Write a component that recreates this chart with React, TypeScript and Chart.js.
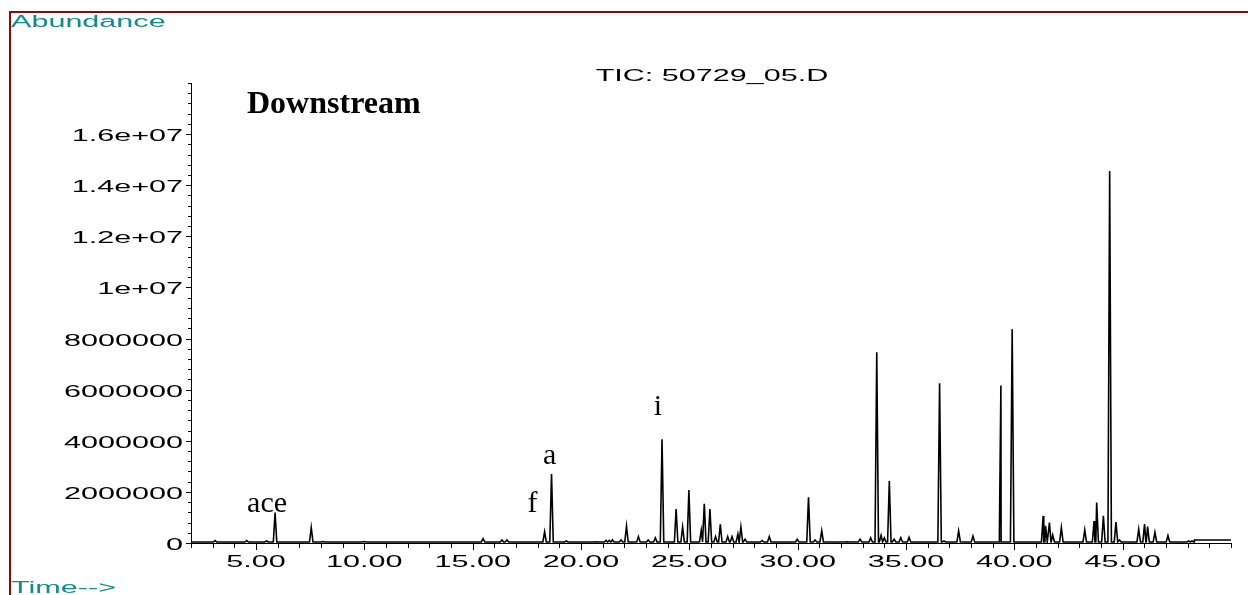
import { useEffect, useRef } from 'react';
import { Chart, registerables } from 'chart.js';

Chart.register(...registerables);

// Retention time (min) of each resolved peak in the total ion chromatogram
const peakTimes = [
  2.14, 3.11, 4.57, 5.49, 5.88, 7.55, 8.09, 10.0, 15.48, 16.35, 16.58, 18.32, 18.64,
  19.32, 20.7, 21.16, 21.31, 21.45, 21.85, 22.1, 22.65, 23.1, 23.43, 23.74, 24.39,
  24.69, 24.98, 25.55, 25.69, 25.95, 26.21, 26.43, 26.77, 26.97, 27.24, 27.38, 27.57,
  28.36, 28.69, 29.98, 30.5, 30.8, 31.11, 32.3, 32.88, 33.37, 33.65, 33.85, 34.0,
  34.23, 34.45, 34.76, 35.14, 36.55, 36.75, 37.43, 38.09, 39.31, 39.38, 39.9, 41.33,
  41.44, 41.62, 41.77, 42.17, 43.25, 43.68, 43.8, 44.11, 44.4, 44.69, 44.85, 45.74,
  46.01, 46.15, 46.49, 47.09, 48.05, 48.2,
];

// Apex abundance of each peak (counts)
const peakHeights = [
  40000, 100000, 100000, 80000, 1190000, 610000, 60000, 60000, 170000, 120000, 120000,
  440000, 2700000, 80000, 50000, 100000, 100000, 120000, 120000, 660000, 250000, 120000,
  200000, 4060000, 1330000, 630000, 2070000, 500000, 1530000, 1330000, 250000, 730000,
  250000, 250000, 350000, 630000, 150000, 100000, 250000, 150000, 1790000, 120000,
  480000, 50000, 150000, 200000, 7460000, 300000, 200000, 2430000, 150000, 210000,
  220000, 6250000, 80000, 470000, 270000, 390000, 6160000, 8360000, 1060000, 670000,
  800000, 310000, 610000, 510000, 860000, 1580000, 1060000, 14560000, 820000, 120000,
  540000, 740000, 640000, 420000, 290000, 80000, 80000,
];

// Baseline drift: level (counts) from each start time onward
const baselineStarts = [2.0, 48.3];
const baselineLevels = [40000, 120000];

const timeMin = 2;
const timeMax = 50;
const abundanceMax = 18000000;

const yTickValues = [0, 2000000, 4000000, 6000000, 8000000, 10000000, 12000000, 14000000, 16000000];
const yTickLabels = ['0', '2000000', '4000000', '6000000', '8000000', '1e+07', '1.2e+07', '1.4e+07', '1.6e+07'];
const yMinorStep = 400000;

const xTickValues = [5, 10, 15, 20, 25, 30, 35, 40, 45];
const xTickLabels = ['5.00', '10.00', '15.00', '20.00', '25.00', '30.00', '35.00', '40.00', '45.00'];
const xMinorStep = 1;

// Compound labels attached to peaks
const compoundLabels = ['ace', 'f', 'a', 'i'];
const compoundTimes = [5.88, 18.32, 18.64, 23.74];
const compoundHeights = [1190000, 440000, 2700000, 4060000];

const chartTitle = 'TIC: 50729_05.D';
const sampleName = 'Downstream';
const yAxisName = 'Abundance';
const xAxisName = 'Time-->';

// Pixel offsets of each compound label from its peak apex (centre x, baseline y)
const compoundLabelOffsets: [number, number][] = [[-8, -1], [-12, -20], [-2, -10], [-4, -24]];

const PEAK_HALF_WIDTH = 0.08;
const TEXT_STRETCH = 1.91;
const SANS = '16px "Liberation Sans", Arial, sans-serif';
const TEAL = '#138b8b';
const FRAME = '#8b0a0a';

function baselineAt(t: number): number {
  let level = baselineLevels[0];
  baselineStarts.forEach((start, i) => {
    if (t >= start) level = baselineLevels[i];
  });
  return level;
}

function buildTrace() {
  const pts: { x: number; y: number }[] = [];
  pts.push({ x: timeMin, y: baselineAt(timeMin) });
  peakTimes.forEach((t, i) => {
    pts.push({ x: t - PEAK_HALF_WIDTH, y: baselineAt(t - PEAK_HALF_WIDTH) });
    pts.push({ x: t, y: peakHeights[i] });
    pts.push({ x: t + PEAK_HALF_WIDTH, y: baselineAt(t + PEAK_HALF_WIDTH) });
  });
  baselineStarts.slice(1).forEach((start, i) => {
    pts.push({ x: start, y: baselineLevels[i] });
    pts.push({ x: start + 0.01, y: baselineLevels[i + 1] });
  });
  pts.push({ x: timeMax, y: baselineAt(timeMax) });
  pts.sort((a, b) => a.x - b.x);
  return pts;
}

function stretchedText(
  ctx: CanvasRenderingContext2D,
  text: string,
  x: number,
  y: number,
  align: CanvasTextAlign,
) {
  ctx.save();
  ctx.translate(x, y);
  ctx.scale(TEXT_STRETCH, 1);
  ctx.textAlign = align;
  ctx.textBaseline = 'alphabetic';
  ctx.fillText(text, 0, 0);
  ctx.restore();
}

const chromatogramDecor = {
  id: 'chromatogramDecor',
  beforeDraw(chart: any) {
    const { ctx, width, height } = chart;
    ctx.save();
    ctx.fillStyle = '#ffffff';
    ctx.fillRect(0, 0, width, height);
    ctx.restore();
  },
  afterDraw(chart: any) {
    const { ctx, width, height } = chart;
    const xs = chart.scales.x;
    const ys = chart.scales.y;
    const left = xs.getPixelForValue(timeMin);
    const right = xs.getPixelForValue(timeMax);
    const bottom = ys.getPixelForValue(0);
    const top = ys.getPixelForValue(abundanceMax);

    ctx.save();
    // window frame
    ctx.strokeStyle = FRAME;
    ctx.lineWidth = 2;
    ctx.beginPath();
    ctx.moveTo(10, height);
    ctx.lineTo(10, 12);
    ctx.lineTo(width, 12);
    ctx.stroke();

    // axes
    ctx.strokeStyle = '#000';
    ctx.lineWidth = 1;
    ctx.beginPath();
    ctx.moveTo(Math.round(left) + 0.5, top);
    ctx.lineTo(Math.round(left) + 0.5, bottom + 0.5);
    ctx.lineTo(right, bottom + 0.5);
    ctx.stroke();

    // y minor and major ticks
    ctx.beginPath();
    for (let v = 0; v <= abundanceMax + 1; v += yMinorStep) {
      const py = Math.round(ys.getPixelForValue(v)) + 0.5;
      ctx.moveTo(left - 3, py);
      ctx.lineTo(left, py);
    }
    yTickValues.forEach((v) => {
      const py = Math.round(ys.getPixelForValue(v)) + 0.5;
      ctx.moveTo(left - 5, py);
      ctx.lineTo(left, py);
    });
    // x minor and major ticks
    for (let t = timeMin; t <= timeMax + 1e-6; t += xMinorStep) {
      const px = Math.round(xs.getPixelForValue(t)) + 0.5;
      ctx.moveTo(px, bottom);
      ctx.lineTo(px, bottom + 5);
    }
    xTickValues.forEach((t) => {
      const px = Math.round(xs.getPixelForValue(t)) + 0.5;
      ctx.moveTo(px, bottom);
      ctx.lineTo(px, bottom + 7);
    });
    ctx.stroke();

    // tick labels
    ctx.fillStyle = '#000';
    ctx.font = SANS;
    yTickValues.forEach((v, i) => {
      stretchedText(ctx, yTickLabels[i], left - 8, ys.getPixelForValue(v) + 7, 'right');
    });
    xTickValues.forEach((t, i) => {
      stretchedText(ctx, xTickLabels[i], xs.getPixelForValue(t), bottom + 24, 'center');
    });

    // title and axis names
    stretchedText(ctx, chartTitle, 712, 81, 'center');
    ctx.fillStyle = TEAL;
    stretchedText(ctx, yAxisName, 11, 27, 'left');
    stretchedText(ctx, xAxisName, 11, 593, 'left');

    // sample name
    ctx.fillStyle = '#000';
    ctx.font = 'bold 32px "Liberation Serif", "Times New Roman", serif';
    ctx.textAlign = 'left';
    ctx.textBaseline = 'alphabetic';
    ctx.fillText(sampleName, 247, 113);

    // compound labels above their peaks
    ctx.font = '30px "Liberation Serif", "Times New Roman", serif';
    ctx.textAlign = 'center';
    compoundLabels.forEach((label, i) => {
      const [dx, dy] = compoundLabelOffsets[i];
      const px = xs.getPixelForValue(compoundTimes[i]);
      const py = ys.getPixelForValue(compoundHeights[i]);
      ctx.fillText(label, px + dx, py + dy);
    });
    ctx.restore();
  },
};

export default function App() {
  const canvasRef = useRef<HTMLCanvasElement | null>(null);

  useEffect(() => {
    const canvas = canvasRef.current;
    if (!canvas) return;
    const chart = new Chart(canvas, {
      type: 'line',
      data: {
        datasets: [
          {
            data: buildTrace(),
            borderColor: '#000000',
            borderWidth: 1.6,
            pointRadius: 0,
            tension: 0,
            fill: false,
          },
        ],
      },
      options: {
        animation: false,
        responsive: false,
        devicePixelRatio: 1,
        parsing: false as any,
        layout: { padding: { left: 191, top: 83, right: 17, bottom: 52 } },
        plugins: {
          legend: { display: false },
          tooltip: { enabled: false },
          title: { display: false },
        },
        scales: {
          x: { type: 'linear', min: timeMin, max: timeMax, display: false },
          y: { type: 'linear', min: 0, max: abundanceMax, display: false },
        },
      },
      plugins: [chromatogramDecor],
    });
    return () => chart.destroy();
  }, []);

  return (
    <div style={{ position: 'fixed', left: 0, top: 0, width: 1248, height: 595, background: '#fff' }}>
      <canvas ref={canvasRef} width={1248} height={595} style={{ display: 'block', width: 1248, height: 595 }} />
    </div>
  );
}
